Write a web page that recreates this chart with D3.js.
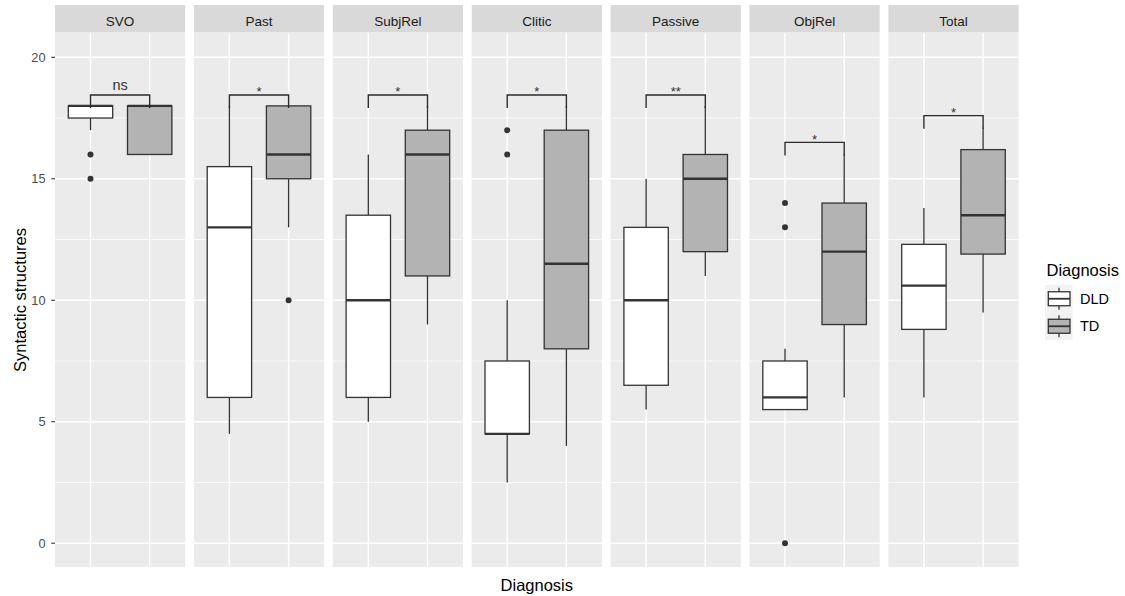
<!DOCTYPE html>
<html>
<head>
<meta charset="utf-8">
<script src="https://cdn.jsdelivr.net/npm/d3@7/dist/d3.min.js"></script>
<style>
  html, body { margin: 0; padding: 0; background: #ffffff; }
  svg { display: block; font-family: "Liberation Sans", Arial, sans-serif; }
</style>
</head>
<body>
<svg id="chart" width="1125" height="596"></svg>
<script>
// Syntactic structures by diagnosis group, one facet per structure type
const structures = ["SVO", "Past", "SubjRel", "Clitic", "Passive", "ObjRel", "Total"];
const groups = ["DLD", "TD"];

// Box statistics per structure: [lower whisker, Q1, median, Q3, upper whisker]
const dldStats = [
  [17, 17.5, 18, 18, 18],
  [4.5, 6, 13, 15.5, 18],
  [5, 6, 10, 13.5, 16],
  [2.5, 4.5, 4.5, 7.5, 10],
  [5.5, 6.5, 10, 13, 15],
  [5.5, 5.5, 6, 7.5, 8],
  [6, 8.8, 10.6, 12.3, 13.8]
];
const tdStats = [
  [16, 16, 18, 18, 18],
  [13, 15, 16, 18, 18],
  [9, 11, 16, 17, 18],
  [4, 8, 11.5, 17, 18],
  [11, 12, 15, 16, 18],
  [6, 9, 12, 14, 16],
  [9.5, 11.9, 13.5, 16.2, 17.1]
];
const dldOutliers = [[16, 15], [], [], [17, 16], [], [14, 13, 0], []];
const tdOutliers = [[], [10], [], [], [], [], []];

// Pairwise comparison labels and bracket heights
const sigLabels = ["ns", "*", "*", "*", "**", "*", "*"];
const bracketY = [18.45, 18.45, 18.45, 18.45, 18.45, 16.5, 17.6];
const tipLength = 0.54;

const yTicks = [0, 5, 10, 15, 20];
const yMinor = [2.5, 7.5, 12.5, 17.5];
const fills = { DLD: "#ffffff", TD: "#b3b3b3" };

const svg = d3.select("#chart");

const panelTop = 33, panelBottom = 567;
const panelLeft0 = 55, panelStep = 138.9, panelW = 130.2;
const stripTop = 5, stripH = 27.5;

const y = d3.scaleLinear().domain([-0.98, 21.0]).range([panelBottom, panelTop]);
const x = d3.scalePoint().domain(groups).range([0, panelW]).padding(0.6);
const boxW = x.step() * 0.75;

const ink = "#333333";
const lw = 1.3;

structures.forEach((name, i) => {
  const g = svg.append("g")
    .attr("transform", `translate(${panelLeft0 + i * panelStep},0)`);

  // panel background and grid
  g.append("rect")
    .attr("x", 0).attr("y", panelTop)
    .attr("width", panelW).attr("height", panelBottom - panelTop)
    .attr("fill", "#ebebeb");
  g.selectAll("line.minor").data(yMinor).join("line")
    .attr("x1", 0).attr("x2", panelW)
    .attr("y1", d => y(d)).attr("y2", d => y(d))
    .attr("stroke", "#ffffff").attr("stroke-width", 0.8);
  g.selectAll("line.major").data(yTicks).join("line")
    .attr("x1", 0).attr("x2", panelW)
    .attr("y1", d => y(d)).attr("y2", d => y(d))
    .attr("stroke", "#ffffff").attr("stroke-width", 1.4);
  g.selectAll("line.vmajor").data(groups).join("line")
    .attr("x1", d => x(d)).attr("x2", d => x(d))
    .attr("y1", panelTop).attr("y2", panelBottom)
    .attr("stroke", "#ffffff").attr("stroke-width", 1.4);

  // strip
  g.append("rect")
    .attr("x", 0).attr("y", stripTop)
    .attr("width", panelW).attr("height", stripH)
    .attr("fill", "#d9d9d9");
  g.append("text")
    .attr("x", panelW / 2).attr("y", 26.3)
    .attr("text-anchor", "middle")
    .attr("font-size", "13.5px")
    .attr("fill", "#1a1a1a")
    .text(name);

  // boxes
  const rows = [
    { grp: "DLD", s: dldStats[i], out: dldOutliers[i] },
    { grp: "TD", s: tdStats[i], out: tdOutliers[i] }
  ];
  rows.forEach(r => {
    const cx = x(r.grp);
    const [lo, q1, med, q3, hi] = r.s;
    const bg = g.append("g");
    if (hi > q3) {
      bg.append("line").attr("x1", cx).attr("x2", cx)
        .attr("y1", y(q3)).attr("y2", y(hi))
        .attr("stroke", ink).attr("stroke-width", lw);
    }
    if (lo < q1) {
      bg.append("line").attr("x1", cx).attr("x2", cx)
        .attr("y1", y(q1)).attr("y2", y(lo))
        .attr("stroke", ink).attr("stroke-width", lw);
    }
    bg.append("rect")
      .attr("x", cx - boxW / 2).attr("y", y(q3))
      .attr("width", boxW).attr("height", Math.max(0.01, y(q1) - y(q3)))
      .attr("fill", fills[r.grp])
      .attr("stroke", ink).attr("stroke-width", lw);
    bg.append("line")
      .attr("x1", cx - boxW / 2).attr("x2", cx + boxW / 2)
      .attr("y1", y(med)).attr("y2", y(med))
      .attr("stroke", ink).attr("stroke-width", 2.4);
    bg.selectAll("circle").data(r.out).join("circle")
      .attr("cx", cx).attr("cy", d => y(d)).attr("r", 3)
      .attr("fill", ink);
  });

  // significance bracket
  const by = bracketY[i];
  g.append("path")
    .attr("d", d3.line()([
      [x("DLD"), y(by - tipLength)],
      [x("DLD"), y(by)],
      [x("TD"), y(by)],
      [x("TD"), y(by - tipLength)]
    ]))
    .attr("fill", "none")
    .attr("stroke", "#2b2b2b").attr("stroke-width", 1.4);
  const lab = sigLabels[i];
  const starsOnly = /^\*+$/.test(lab);
  g.append("text")
    .attr("x", (x("DLD") + x("TD")) / 2)
    .attr("y", starsOnly ? y(by) + 1.5 : y(by) - 4.5)
    .attr("text-anchor", "middle")
    .attr("font-size", starsOnly ? "13px" : "14.5px")
    .attr("fill", "#333333")
    .text(lab);
});

// y axis
const yAxis = svg.append("g").attr("transform", `translate(${panelLeft0},0)`);
yAxis.selectAll("line").data(yTicks).join("line")
  .attr("x1", -3.7).attr("x2", 0)
  .attr("y1", d => y(d)).attr("y2", d => y(d))
  .attr("stroke", ink).attr("stroke-width", 1.1);
yAxis.selectAll("text").data(yTicks).join("text")
  .attr("x", -9.5).attr("y", d => y(d))
  .attr("dy", "0.36em")
  .attr("text-anchor", "end")
  .attr("font-size", "12.8px")
  .attr("fill", "#4d4d4d")
  .text(d => d);

// axis titles
svg.append("text")
  .attr("transform", `translate(25.5,${(panelTop + panelBottom) / 2}) rotate(-90)`)
  .attr("text-anchor", "middle")
  .attr("font-size", "16.5px")
  .attr("fill", "#000000")
  .text("Syntactic structures");
const lastRight = panelLeft0 + (structures.length - 1) * panelStep + panelW;
svg.append("text")
  .attr("x", (panelLeft0 + lastRight) / 2).attr("y", 591)
  .attr("text-anchor", "middle")
  .attr("font-size", "16.5px")
  .attr("fill", "#000000")
  .text("Diagnosis");

// legend
const leg = svg.append("g").attr("transform", "translate(1045,0)");
leg.append("text")
  .attr("x", 1.5).attr("y", 275.7)
  .attr("font-size", "16.5px")
  .attr("fill", "#000000")
  .text("Diagnosis");
const keyH = 27.5, keyW = 27.5, keyTop = 285;
groups.forEach((grp, j) => {
  const ky = keyTop + j * keyH;
  const kc = ky + keyH / 2;
  leg.append("rect")
    .attr("x", 0).attr("y", ky).attr("width", keyW).attr("height", keyH)
    .attr("fill", "#f2f2f2");
  leg.append("line")
    .attr("x1", 14).attr("x2", 14).attr("y1", kc - 11).attr("y2", kc + 11)
    .attr("stroke", ink).attr("stroke-width", lw);
  leg.append("rect")
    .attr("x", 3.3).attr("y", kc - 7).attr("width", 21.7).attr("height", 14)
    .attr("fill", fills[grp]).attr("stroke", ink).attr("stroke-width", lw);
  leg.append("line")
    .attr("x1", 3.3).attr("x2", 25).attr("y1", kc).attr("y2", kc)
    .attr("stroke", ink).attr("stroke-width", 1.8);
  leg.append("text")
    .attr("x", 35).attr("y", kc).attr("dy", "0.36em")
    .attr("font-size", "14.5px")
    .attr("fill", "#000000")
    .text(grp);
});
</script>
</body>
</html>
